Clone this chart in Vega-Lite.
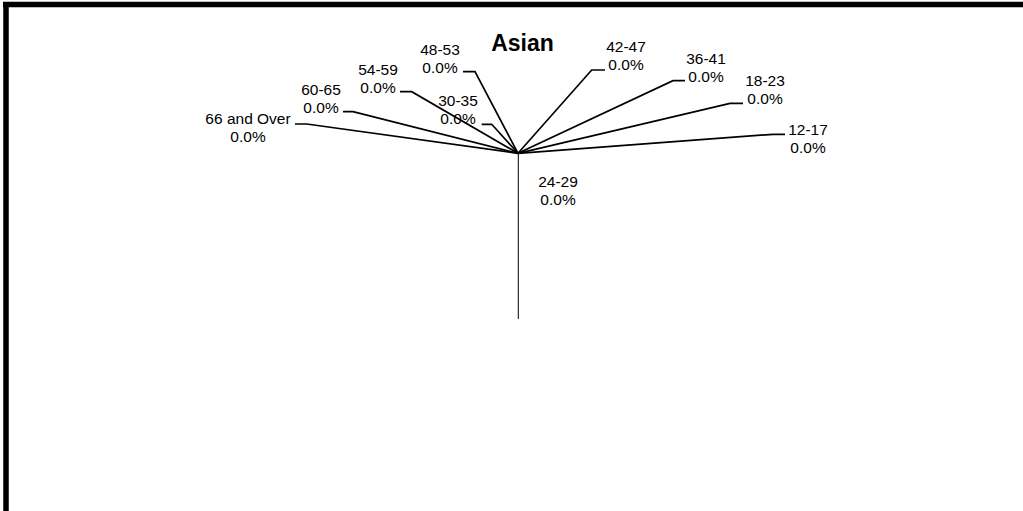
{
  "$schema": "https://vega.github.io/schema/vega-lite/v6.json",
  "width": 1023,
  "height": 511,
  "autosize": "none",
  "padding": 0,
  "background": "white",
  "config": {"view": {"stroke": null}},
  "datasets": {
    "leaders": [
      {"label": "66 and Over", "step": 0, "x": 518, "y": 153.3},
      {"label": "66 and Over", "step": 1, "x": 306.7, "y": 124},
      {"label": "66 and Over", "step": 2, "x": 295, "y": 124},
      {"label": "60-65", "step": 0, "x": 518, "y": 153.3},
      {"label": "60-65", "step": 1, "x": 353, "y": 111.7},
      {"label": "60-65", "step": 2, "x": 343, "y": 111.7},
      {"label": "54-59", "step": 0, "x": 518, "y": 153.3},
      {"label": "54-59", "step": 1, "x": 411.7, "y": 91.7},
      {"label": "54-59", "step": 2, "x": 400, "y": 91.7},
      {"label": "48-53", "step": 0, "x": 518, "y": 153.3},
      {"label": "48-53", "step": 1, "x": 475, "y": 71.7},
      {"label": "48-53", "step": 2, "x": 463, "y": 71.7},
      {"label": "30-35", "step": 0, "x": 518, "y": 153.3},
      {"label": "30-35", "step": 1, "x": 491.7, "y": 124.3},
      {"label": "30-35", "step": 2, "x": 481.7, "y": 124.3},
      {"label": "42-47", "step": 0, "x": 518, "y": 153.3},
      {"label": "42-47", "step": 1, "x": 591.7, "y": 70},
      {"label": "42-47", "step": 2, "x": 605, "y": 70},
      {"label": "36-41", "step": 0, "x": 518, "y": 153.3},
      {"label": "36-41", "step": 1, "x": 673, "y": 80.7},
      {"label": "36-41", "step": 2, "x": 685, "y": 80.7},
      {"label": "18-23", "step": 0, "x": 518, "y": 153.3},
      {"label": "18-23", "step": 1, "x": 730, "y": 103.3},
      {"label": "18-23", "step": 2, "x": 743, "y": 103.3},
      {"label": "12-17", "step": 0, "x": 518, "y": 153.3},
      {"label": "12-17", "step": 1, "x": 773, "y": 134.3},
      {"label": "12-17", "step": 2, "x": 785, "y": 134.3}
    ],
    "vertical": [
      {"label": "24-29", "x": 518.3, "y": 153.3, "y2": 319}
    ],
    "labels": [
      {"label": "66 and Over", "pct": "0.0%", "x": 248, "y": 119},
      {"label": "60-65", "pct": "0.0%", "x": 321, "y": 89.5},
      {"label": "54-59", "pct": "0.0%", "x": 378, "y": 69.5},
      {"label": "48-53", "pct": "0.0%", "x": 440, "y": 50},
      {"label": "30-35", "pct": "0.0%", "x": 458, "y": 101},
      {"label": "42-47", "pct": "0.0%", "x": 626, "y": 47},
      {"label": "36-41", "pct": "0.0%", "x": 706, "y": 58.5},
      {"label": "18-23", "pct": "0.0%", "x": 765, "y": 81},
      {"label": "12-17", "pct": "0.0%", "x": 808, "y": 130},
      {"label": "24-29", "pct": "0.0%", "x": 558, "y": 182}
    ],
    "title": [
      {"text": "Asian", "x": 522.5, "y": 44}
    ],
    "frameTop": [
      {"x": 3, "x2": 1023, "y": 4.5}
    ],
    "frameLeft": [
      {"x": 6, "y": 2, "y2": 511}
    ]
  },
  "layer": [
    {
      "data": {"name": "frameTop"},
      "mark": {"type": "rule", "color": "black", "strokeWidth": 5.5},
      "encoding": {
        "x": {"field": "x", "type": "quantitative", "scale": {"domain": [0, 1023], "nice": false, "zero": false}, "axis": null},
        "x2": {"field": "x2"},
        "y": {"field": "y", "type": "quantitative", "scale": {"domain": [511, 0], "nice": false, "zero": false}, "axis": null}
      }
    },
    {
      "data": {"name": "frameLeft"},
      "mark": {"type": "rule", "color": "black", "strokeWidth": 5.5},
      "encoding": {
        "x": {"field": "x", "type": "quantitative", "axis": null},
        "y": {"field": "y", "type": "quantitative", "axis": null},
        "y2": {"field": "y2"}
      }
    },
    {
      "data": {"name": "leaders"},
      "mark": {"type": "line", "color": "black", "strokeWidth": 1.7, "interpolate": "linear"},
      "encoding": {
        "x": {"field": "x", "type": "quantitative", "axis": null},
        "y": {"field": "y", "type": "quantitative", "axis": null},
        "detail": {"field": "label"},
        "order": {"field": "step"}
      }
    },
    {
      "data": {"name": "vertical"},
      "mark": {"type": "rule", "color": "black", "strokeWidth": 1},
      "encoding": {
        "x": {"field": "x", "type": "quantitative", "axis": null},
        "y": {"field": "y", "type": "quantitative", "axis": null},
        "y2": {"field": "y2"}
      }
    },
    {
      "data": {"name": "labels"},
      "transform": [{"calculate": "[datum.label, datum.pct]", "as": "lines"}],
      "mark": {"type": "text", "font": "Liberation Sans", "fontSize": 15.5, "color": "black", "align": "center", "baseline": "middle", "lineHeight": 18.3},
      "encoding": {
        "x": {"field": "x", "type": "quantitative", "axis": null},
        "y": {"field": "y", "type": "quantitative", "axis": null},
        "text": {"field": "lines"}
      }
    },
    {
      "data": {"name": "title"},
      "mark": {"type": "text", "font": "Liberation Sans", "fontSize": 23, "fontWeight": "bold", "color": "black", "align": "center", "baseline": "middle"},
      "encoding": {
        "x": {"field": "x", "type": "quantitative", "axis": null},
        "y": {"field": "y", "type": "quantitative", "axis": null},
        "text": {"field": "text"}
      }
    }
  ]
}
